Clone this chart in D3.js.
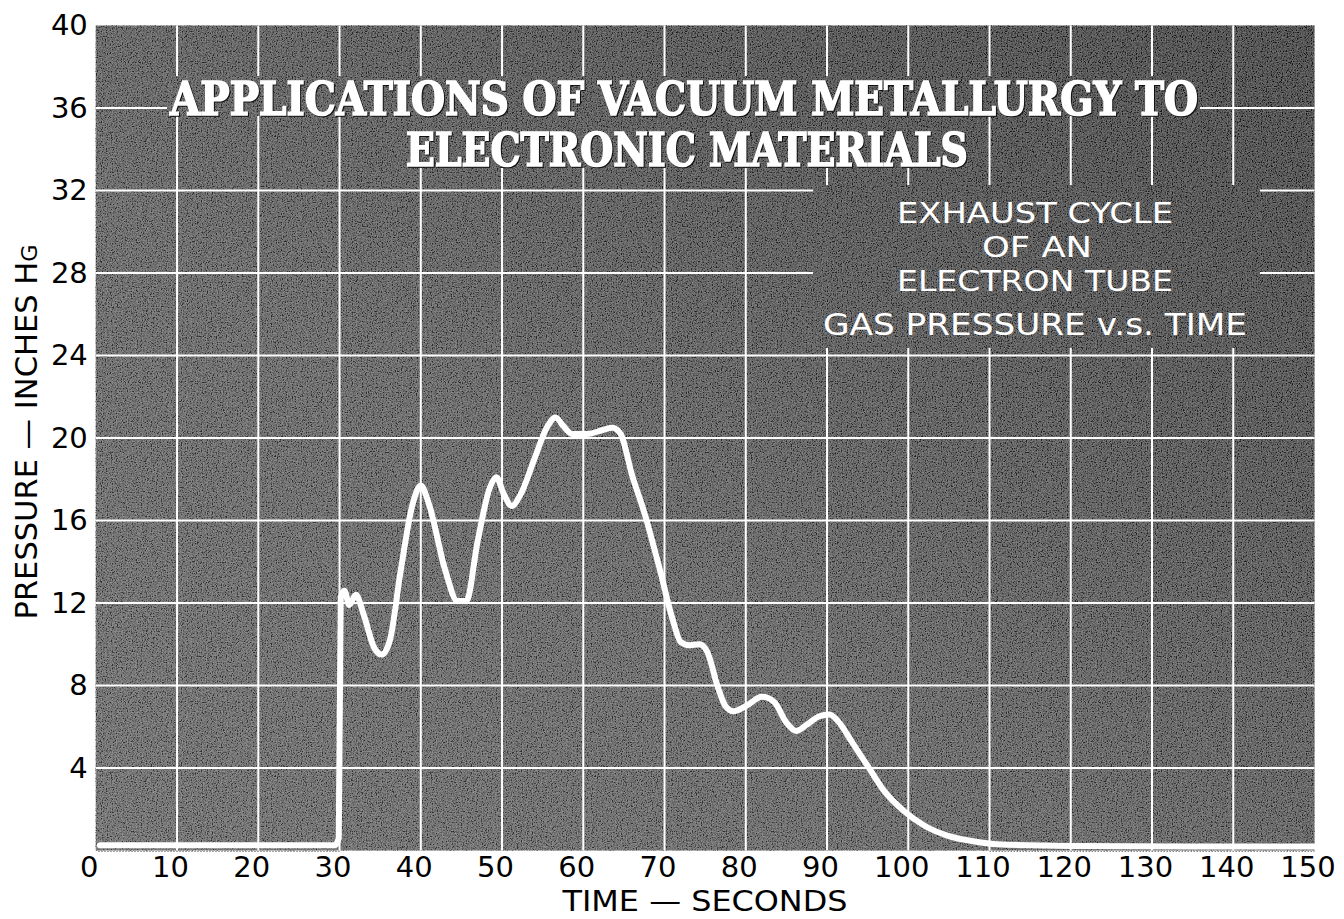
<!DOCTYPE html>
<html>
<head>
<meta charset="utf-8">
<script src="https://cdn.jsdelivr.net/npm/d3@7"></script>
<style>
  html, body { margin: 0; padding: 0; background: #ffffff; }
  svg { display: block; }
</style>
</head>
<body>
<svg id="chart" width="1344" height="919"></svg>
<script>
// Exhaust cycle of an electron tube: gas pressure (in. Hg) against time (s)
const timeSec = [
  0.5, 10, 20, 29.4, 29.9, 30.15, 30.6, 31.2, 32.0, 33.0, 34.3, 35.2, 36.2,
  37.5, 39.0, 40.0, 41.0, 43.0, 44.5, 45.6, 47.0, 48.5, 49.3, 50.2, 51.2,
  52.2, 54.0, 55.5, 56.6, 57.5, 58.6, 60.5, 62.5, 63.6, 64.6, 66.0, 67.5,
  69.5, 71.0, 72.0, 73.0, 74.3, 75.3, 76.5, 77.5, 78.5, 80.0, 82.0, 83.5,
  85.0, 86.2, 87.5, 89.0, 90.3, 91.5, 93.0, 95.0, 97.0, 99.5, 102.0, 105.0,
  108.0, 111.0, 120.0, 135.0, 150.0
];
const pressureInHg = [
  0.25, 0.25, 0.25, 0.25, 0.6, 12.3, 12.6, 11.9, 12.4, 11.4, 9.8, 9.5, 10.2,
  13.5, 16.8, 17.7, 16.8, 13.6, 12.1, 12.1, 15.0, 17.6, 18.1, 17.3, 16.7,
  17.2, 19.0, 20.5, 21.0, 20.6, 20.2, 20.2, 20.4, 20.5, 20.2, 18.2, 16.4,
  13.5, 11.2, 10.1, 9.95, 10.0, 9.6, 8.0, 7.0, 6.75, 7.0, 7.45, 7.2,
  6.2, 5.8, 6.1, 6.5, 6.6, 6.2, 5.3, 4.1, 2.9, 1.9, 1.2, 0.7,
  0.45, 0.3, 0.22, 0.2, 0.2
];
const xTicks = [0, 10, 20, 30, 40, 50, 60, 70, 80, 90, 100, 110, 120, 130, 140, 150];
const yTicks = [4, 8, 12, 16, 20, 24, 28, 32, 36, 40];
const xGrid = [10, 20, 30, 40, 50, 60, 70, 80, 90, 100, 110, 120, 130, 140];
const yGrid = [4, 8, 12, 16, 20, 24, 28, 32, 36];
const titleLines = ["APPLICATIONS OF VACUUM METALLURGY TO", "ELECTRONIC MATERIALS"];
const noteLines = ["EXHAUST CYCLE", "OF AN", "ELECTRON TUBE", "GAS PRESSURE v.s. TIME"];

const svg = d3.select("#chart");
const x = d3.scaleLinear().domain([0, 150]).range([95.8, 1314.5]);
const y = d3.scaleLinear().domain([0, 40]).range([850.5, 25.5]);

const defs = svg.append("defs");

// shaded plate: lighter toward the lower left, darker toward the upper right
const grad = defs.append("linearGradient")
  .attr("id", "plate").attr("x1", 0).attr("y1", 1).attr("x2", 1).attr("y2", 0);
grad.append("stop").attr("offset", 0).attr("stop-color", "#525252");
grad.append("stop").attr("offset", 0.4).attr("stop-color", "#474747");
grad.append("stop").attr("offset", 0.75).attr("stop-color", "#2c2c2c");
grad.append("stop").attr("offset", 1).attr("stop-color", "#1c1c1c");

// halftone-like grain
const grain = defs.append("filter").attr("id", "grain")
  .attr("x", 0).attr("y", 0).attr("width", "100%").attr("height", "100%");
grain.append("feTurbulence").attr("type", "fractalNoise")
  .attr("baseFrequency", 0.8).attr("numOctaves", 2).attr("seed", 7);
grain.append("feColorMatrix").attr("type", "saturate").attr("values", 0);
const ct = grain.append("feComponentTransfer");
ct.append("feFuncR").attr("type", "linear").attr("slope", 3.4).attr("intercept", -1.2);
ct.append("feFuncG").attr("type", "linear").attr("slope", 3.4).attr("intercept", -1.2);
ct.append("feFuncB").attr("type", "linear").attr("slope", 3.4).attr("intercept", -1.2);
ct.append("feFuncA").attr("type", "table").attr("tableValues", "1 1");

// grid is hidden behind the lettering blocks
const gridMask = defs.append("mask").attr("id", "gridMask")
  .attr("maskUnits", "userSpaceOnUse")
  .attr("x", 0).attr("y", 0).attr("width", 1344).attr("height", 919);
gridMask.append("rect").attr("width", 1344).attr("height", 919).attr("fill", "#fff");
const holes = [
  [167, 76, 1200, 116],
  [398, 116, 982, 168],
  [813, 185, 1260, 348]
];
gridMask.selectAll("rect.hole").data(holes).join("rect")
  .attr("class", "hole")
  .attr("x", d => d[0]).attr("y", d => d[1])
  .attr("width", d => d[2] - d[0]).attr("height", d => d[3] - d[1])
  .attr("fill", "#000");

const [x0, x1] = x.range();
const [yb, yt] = y.range();

svg.append("rect")
  .attr("x", x0).attr("y", yt).attr("width", x1 - x0).attr("height", yb - yt)
  .attr("fill", "url(#plate)");
svg.append("rect")
  .attr("x", x0).attr("y", yt).attr("width", x1 - x0).attr("height", yb - yt)
  .attr("fill", "#808080")
  .attr("filter", "url(#grain)")
  .attr("opacity", 0.36);

// grid
const grid = svg.append("g").attr("mask", "url(#gridMask)")
  .attr("stroke", "#ffffff").attr("stroke-width", 2);
grid.selectAll("line.v").data(xGrid).join("line").attr("class", "v")
  .attr("x1", d => x(d)).attr("x2", d => x(d)).attr("y1", yt).attr("y2", yb);
grid.selectAll("line.h").data(yGrid).join("line").attr("class", "h")
  .attr("x1", x0).attr("x2", x1).attr("y1", d => y(d)).attr("y2", d => y(d));

// dotted lower edge beneath the flat parts of the trace
svg.selectAll("line.edge").data([[0.3, 30], [110, 150]]).join("line")
  .attr("class", "edge")
  .attr("x1", d => x(d[0])).attr("x2", d => x(d[1]))
  .attr("y1", yb + 1).attr("y2", yb + 1)
  .attr("stroke", "#888").attr("stroke-width", 1).attr("stroke-dasharray", "1.5,1.5");

// pressure trace
const pts = timeSec.map((t, i) => [t, pressureInHg[i]]);
const line = d3.line().x(d => x(d[0])).y(d => y(d[1])).curve(d3.curveMonotoneX);
svg.append("path").datum(pts)
  .attr("d", line)
  .attr("fill", "none").attr("stroke", "#ffffff")
  .attr("stroke-width", 6).attr("stroke-linejoin", "round").attr("stroke-linecap", "round");

// axes (labels only)
const tickFont = "'DejaVu Sans', 'Liberation Sans', sans-serif";
const yAxis = svg.append("g").attr("transform", `translate(${x0},0)`)
  .call(d3.axisLeft(y).tickValues(yTicks).tickSize(0).tickPadding(8).tickFormat(d3.format("d")));
yAxis.select(".domain").remove();
yAxis.selectAll("text").attr("font-family", tickFont).attr("font-size", 29).attr("fill", "#000");

const xAxis = svg.append("g").attr("transform", `translate(0,${yb})`)
  .call(d3.axisBottom(x).tickValues(xTicks).tickSize(0).tickPadding(6).tickFormat(d3.format("d")));
xAxis.select(".domain").remove();
xAxis.selectAll("text").attr("font-family", tickFont).attr("font-size", 29).attr("fill", "#000")
  .attr("dx", -7);

// axis titles
svg.append("text")
  .attr("x", 705).attr("y", 911).attr("text-anchor", "middle")
  .attr("font-family", tickFont).attr("font-size", 29).attr("fill", "#000")
  .attr("textLength", 285).attr("lengthAdjust", "spacingAndGlyphs")
  .text("TIME — SECONDS");

const yTitle = svg.append("text")
  .attr("transform", "translate(37,432) rotate(-90)")
  .attr("text-anchor", "middle")
  .attr("font-family", tickFont).attr("font-size", 30).attr("fill", "#000")
  .attr("textLength", 375).attr("lengthAdjust", "spacingAndGlyphs");
yTitle.append("tspan").text("PRESSURE — INCHES H");
yTitle.append("tspan").attr("font-size", 22).text("G");

// heading in heavy slab letters
const titleFont = "'DejaVu Serif Condensed', 'DejaVu Serif', serif";
const titlePos = [
  { cx: 684, base: 115, len: 1028, size: 47 },
  { cx: 687, base: 166, len: 562, size: 47 }
];
svg.selectAll("text.title").data(titleLines).join("text")
  .attr("class", "title")
  .attr("x", (d, i) => titlePos[i].cx).attr("y", (d, i) => titlePos[i].base)
  .attr("text-anchor", "middle")
  .attr("font-family", titleFont).attr("font-weight", "900")
  .attr("font-stretch", "condensed")
  .attr("font-size", (d, i) => titlePos[i].size)
  .attr("textLength", (d, i) => titlePos[i].len).attr("lengthAdjust", "spacingAndGlyphs")
  .attr("fill", "#ffffff").attr("stroke", "#ffffff").attr("stroke-width", 1.6)
  .style("filter", "drop-shadow(1px 1px 0 #111)")
  .text(d => d);

// caption block
const notePos = [
  { cx: 1035, base: 223, len: 276, size: 29 },
  { cx: 1037, base: 257, len: 110, size: 29 },
  { cx: 1035, base: 291, len: 276, size: 29 },
  { cx: 1035, base: 335, len: 424, size: 31 }
];
svg.selectAll("text.note").data(noteLines).join("text")
  .attr("class", "note")
  .attr("x", (d, i) => notePos[i].cx).attr("y", (d, i) => notePos[i].base)
  .attr("text-anchor", "middle")
  .attr("font-family", tickFont)
  .attr("font-size", (d, i) => notePos[i].size)
  .attr("textLength", (d, i) => notePos[i].len).attr("lengthAdjust", "spacingAndGlyphs")
  .attr("fill", "#ffffff")
  .text(d => d);
</script>
</body>
</html>
